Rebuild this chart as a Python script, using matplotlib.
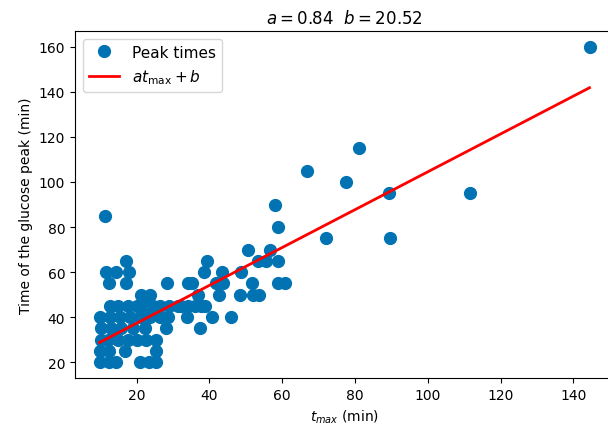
import matplotlib
matplotlib.use("Agg")
import matplotlib.pyplot as plt
import numpy as np

# Peak data: t_max (min) and time of glucose peak (min)
t_max = [144.4, 111.7, 89.4, 89.6, 81.0, 77.4, 66.7, 72.0, 58.0, 58.7, 11.4,
         50.5, 56.6,
         39.4, 53.4, 55.5, 58.9, 17.0,
         38.5, 43.5, 48.6, 11.5, 14.4, 17.8,
         12.4, 17.0, 28.3, 34.1, 35.1, 41.9, 43.8, 51.8, 58.7, 60.8,
         21.3, 23.7, 36.8, 42.5, 48.4, 52.0, 53.5,
         12.6, 15.0, 17.6, 20.2, 22.5, 24.5, 26.5, 29.0, 31.5, 32.3, 34.1, 36.0, 37.8, 38.7,
         9.8, 12.8, 15.5, 18.3, 20.8, 23.6, 26.3, 28.6, 33.7, 40.8, 46.0,
         10.3, 13.0, 15.8, 19.0, 22.2, 28.1, 37.3,
         10.3, 12.1, 14.9, 17.6, 20.2, 22.5, 25.2,
         9.8, 12.3, 16.7, 25.2,
         10.0, 12.3, 14.4, 21.0, 23.3, 25.2]
peak_time = [160, 95, 95, 75, 115, 100, 105, 75, 90, 80, 85,
             70, 70,
             65, 65, 65, 65, 65,
             60, 60, 60, 60, 60, 60,
             55, 55, 55, 55, 55, 55, 55, 55, 55, 55,
             50, 50, 50, 50, 50, 50, 50,
             45, 45, 45, 45, 45, 45, 45, 45, 45, 45, 45, 45, 45, 45,
             40, 40, 40, 40, 40, 40, 40, 40, 40, 40, 40,
             35, 35, 35, 35, 35, 35, 35,
             30, 30, 30, 30, 30, 30, 30,
             25, 25, 25, 25,
             20, 20, 20, 20, 20, 20]

a = 0.84
b = 20.52

x = np.array(t_max)
y = np.array(peak_time)

fig = plt.figure(figsize=(6.08, 4.35), dpi=100)
ax = fig.add_axes([75/608, (435-379)/435, 539/608, 347/435])

ax.plot(x, y, 'o', color='#0173b2', markersize=8.5, label='Peak times', zorder=2)
xs = np.sort(x)
ax.plot(xs, a*xs + b, color='#ff0000', linewidth=2, label=r'$at_{\max}+b$', zorder=3)

ax.set_title(r'$a=0.84\ \ b=20.52$', fontsize=12)
ax.set_xlabel(r'$t_{max}$ (min)')
ax.set_ylabel('Time of the glucose peak (min)')
ax.set_xticks([20, 40, 60, 80, 100, 120, 140])
ax.set_yticks([20, 40, 60, 80, 100, 120, 140, 160])
ax.legend(loc='upper left', fontsize=11)

fig.savefig('out.png', dpi=100)
